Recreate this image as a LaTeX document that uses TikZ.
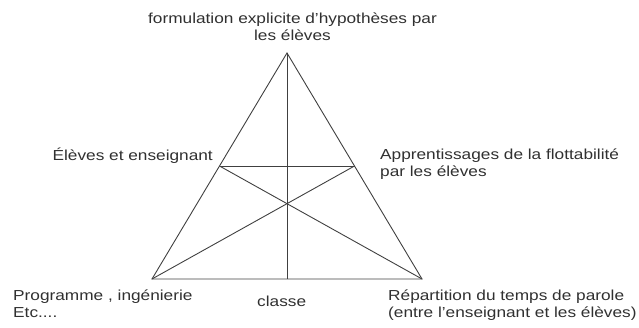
\documentclass[tikz,border=0pt]{standalone}
\usepackage{fontspec}
\setmainfont{Liberation Sans}[FakeStretch=1.19]
\usetikzlibrary{calc}
\definecolor{inkline}{HTML}{404040}
\definecolor{inktext}{HTML}{303030}
\tikzset{
  edge/.style={line width=0.9pt, inkline},
  pole/.style={inner sep=0pt, align=left, text=inktext,
    font=\fontsize{14.5}{17.5}\selectfont},
}

\begin{document}
\begin{tikzpicture}[x=1pt, y=1pt]
\useasboundingbox (0,0) rectangle (639,328);

% ===== triangle corners =====
\coordinate (top) at (287,275);
\coordinate (bl)  at (152,49);
\coordinate (br)  at (422,49);
\coordinate (midL) at ($(top)!0.5!(bl)$);
\coordinate (midR) at ($(top)!0.5!(br)$);
\coordinate (foot) at ($(bl)!0.5!(br)$);

% ===== triangle and inner lines =====
\draw[edge] (top) -- (bl) -- (br) -- cycle;
\draw[edge] (midL) -- (midR);
\draw[edge] (top) -- (foot);
\draw[edge] (midL) -- (br);
\draw[edge] (midR) -- (bl);

% ===== labels (base = last line) =====
\node[pole, align=center, anchor=base] (hyp) at (292.5,287)
  {formulation explicite d'hypothèses par\\les élèves};
\node[pole, anchor=base east] (acteurs) at (213,167) {Élèves et enseignant};
\node[pole, anchor=base west] (appr) at (380,151)
  {Apprentissages de la flottabilité\\par les élèves};
\node[pole, anchor=base west] (prog) at (13,10) {Programme , ingénierie\\Etc....};
\node[pole, anchor=base west] (classe) at (257,21) {classe};
\node[pole, anchor=base west] (parole) at (388,10)
  {Répartition du temps de parole\\(entre l'enseignant et les élèves)};

\end{tikzpicture}
\end{document}
